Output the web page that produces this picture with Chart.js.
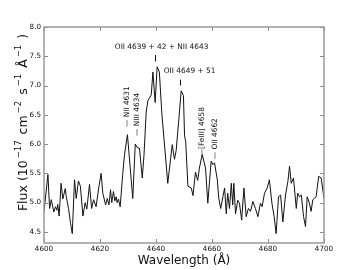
<!DOCTYPE html>
<html>
<head>
<meta charset="utf-8">
<script src="https://cdn.jsdelivr.net/npm/chart.js@4"></script>
<style>
  body { margin: 0; background: #fff; }
</style>
</head>
<body>
<canvas id="espectro" width="360" height="270"></canvas>
<script>
var wavelength = [
  4600.0, 4601.4, 4602.0, 4602.6, 4603.5, 4604.1, 4604.6, 4604.9, 4605.4, 4606.1,
  4606.7, 4607.6, 4607.9, 4608.75, 4609.5, 4610.1, 4610.9, 4611.5, 4612.3, 4613.0,
  4613.9, 4614.7, 4615.3, 4616.25, 4617.0, 4617.7, 4618.6, 4619.6, 4620.4, 4621.0,
  4622.0, 4622.6, 4623.2, 4623.75, 4624.2, 4624.8, 4625.3, 4625.8, 4626.1, 4626.6,
  4627.2, 4628.1, 4628.75, 4629.8, 4631.7, 4632.6, 4633.3, 4634.1, 4635.1, 4635.7,
  4636.5, 4637.1, 4638.3, 4638.9, 4639.7, 4640.4, 4641.2, 4642.1, 4643.2, 4644.2,
  4645.8, 4646.6, 4647.2, 4648.2, 4649.0, 4649.8, 4650.2, 4650.6, 4651.4, 4652.6,
  4653.2, 4654.1, 4654.9, 4655.5, 4656.5, 4657.7, 4658.5, 4659.7, 4660.3, 4660.9,
  4661.9, 4662.4, 4663.1, 4663.9, 4664.5, 4665.1, 4665.6, 4666.25, 4666.9, 4667.4,
  4667.8, 4668.4, 4669.2, 4669.8, 4670.6, 4671.4, 4672.2, 4673.0, 4673.75, 4674.6,
  4675.5, 4676.4, 4677.3, 4677.9, 4678.75, 4679.7, 4680.5, 4681.4, 4682.2, 4682.9,
  4683.75, 4684.5, 4685.3, 4686.25, 4687.1, 4687.7, 4688.3, 4689.1, 4690.1, 4690.6,
  4691.25, 4691.9, 4692.7, 4693.4, 4694.0, 4694.8, 4695.4, 4696.0, 4697.2, 4698.1,
  4699.0, 4700.0
];
var flux = [
  4.84, 5.48, 4.90, 5.05, 4.84, 4.93, 4.87, 4.97, 4.77, 5.33,
  5.06, 5.24, 5.12, 4.90, 4.64, 4.47, 5.39, 5.07, 5.37, 5.28,
  4.77, 5.00, 4.89, 5.31, 4.90, 5.05, 4.93, 5.27, 5.50, 5.16,
  4.96, 5.07, 4.96, 5.22, 5.00, 5.19, 5.03, 5.10, 5.00, 5.06,
  4.93, 5.48, 5.82, 6.16, 5.07, 6.00, 5.94, 5.93, 5.42, 5.80,
  6.55, 6.74, 6.84, 7.23, 6.71, 7.32, 7.23, 6.51, 5.90, 5.33,
  5.99, 5.74, 5.89, 6.45, 6.91, 6.83, 6.14, 6.05, 5.28, 5.25,
  5.12, 5.52, 5.38, 5.59, 5.82, 5.59, 4.99, 5.71, 5.65, 5.68,
  5.39, 5.08, 4.90, 5.10, 5.25, 4.81, 5.16, 4.90, 5.33, 4.96,
  5.33, 4.81, 5.04, 4.99, 4.70, 5.25, 4.76, 4.90, 4.85, 5.02,
  4.90, 4.76, 4.99, 4.93, 5.16, 5.25, 5.39, 4.99, 4.76, 4.47,
  5.10, 5.13, 4.67, 5.13, 5.36, 5.62, 5.33, 5.42, 4.90, 5.16,
  5.10, 5.13, 4.76, 4.59, 5.10, 4.99, 4.85, 5.05, 5.10, 5.45,
  5.42, 5.07
];
var xTicks = [4600, 4620, 4640, 4660, 4680, 4700];
var yTicks = [4.5, 5.0, 5.5, 6.0, 6.5, 7.0, 7.5, 8.0];

// etiquetas de lineas de emision
var lineasHoriz = [
  { texto: 'OII 4639 + 42 + NII 4643', x: 4642.0, y: 7.65, marca: 4639.6, y1: 7.52, y2: 7.41 },
  { texto: 'OII 4649 + 51', x: 4652.0, y: 7.24, marca: 4648.4, y1: 7.10, y2: 7.00 }
];
var lineasVert = [
  { texto: '\u2014 NII 4631', x: 4629.6, y: 6.29 },
  { texto: '\u2014 NIII 4634', x: 4633.3, y: 6.14 },
  { texto: '\u2014[FeIII] 4658', x: 4656.4, y: 5.79 },
  { texto: '\u2014 OII 4662', x: 4661.1, y: 5.74 }
];

var puntos = wavelength.map(function (w, i) { return { x: w, y: flux[i] }; });

var fuente = '"DejaVu Sans", sans-serif';

var marco = {
  id: 'marco',
  afterDraw: function (chart) {
    var ctx = chart.ctx;
    var a = chart.chartArea;
    var sx = chart.scales.x, sy = chart.scales.y;
    ctx.save();
    // ticks hacia adentro
    ctx.strokeStyle = '#888';
    ctx.lineWidth = 1;
    ctx.beginPath();
    xTicks.forEach(function (t) {
      var px = Math.round(sx.getPixelForValue(t)) + 0.5;
      ctx.moveTo(px, a.bottom); ctx.lineTo(px, a.bottom - 4);
      ctx.moveTo(px, a.top); ctx.lineTo(px, a.top + 4);
    });
    yTicks.forEach(function (t) {
      var py = Math.round(sy.getPixelForValue(t)) + 0.5;
      ctx.moveTo(a.left, py); ctx.lineTo(a.left + 4, py);
      ctx.moveTo(a.right, py); ctx.lineTo(a.right - 4, py);
    });
    ctx.stroke();
    ctx.strokeStyle = '#999';
    ctx.lineWidth = 1.5;
    ctx.strokeRect(a.left, a.top, a.right - a.left, a.bottom - a.top);

    // anotaciones
    ctx.fillStyle = '#111';
    ctx.strokeStyle = '#111';
    ctx.lineWidth = 1;
    ctx.font = '7.4px ' + fuente;
    ctx.textAlign = 'center';
    ctx.textBaseline = 'middle';
    lineasHoriz.forEach(function (l) {
      ctx.fillText(l.texto, sx.getPixelForValue(l.x), sy.getPixelForValue(l.y));
      var mx = Math.round(sx.getPixelForValue(l.marca)) + 0.5;
      ctx.beginPath();
      ctx.moveTo(mx, sy.getPixelForValue(l.y1));
      ctx.lineTo(mx, sy.getPixelForValue(l.y2));
      ctx.stroke();
    });
    lineasVert.forEach(function (l) {
      ctx.save();
      ctx.translate(sx.getPixelForValue(l.x), sy.getPixelForValue(l.y));
      ctx.rotate(-Math.PI / 2);
      ctx.textAlign = 'left';
      ctx.fillText(l.texto, 0, 0);
      ctx.restore();
    });

    // titulos de ejes
    ctx.font = '12px ' + fuente;
    ctx.textAlign = 'center';
    ctx.textBaseline = 'alphabetic';
    ctx.fillText('Wavelength (\u00c5)', 184, 264);

    // titulo eje y con superindices
    var partes = [
      ['Flux (10', 0], ['\u221217', 1], [' cm', 0], ['\u22122', 1], [' s', 0],
      ['\u22121', 1], [' \u00c5', 0], ['\u22121', 1], [' )', 0]
    ];
    var fNormal = '12.5px ' + fuente, fSup = '8.5px ' + fuente;
    var total = 0;
    partes.forEach(function (p) {
      ctx.font = p[1] ? fSup : fNormal;
      total += ctx.measureText(p[0]).width + (p[1] ? 3 : 1);
    });
    ctx.save();
    ctx.translate(27, 122);
    ctx.rotate(-Math.PI / 2);
    ctx.textAlign = 'left';
    var cx = -total / 2;
    partes.forEach(function (p) {
      ctx.font = p[1] ? fSup : fNormal;
      ctx.fillText(p[0], cx + (p[1] ? 1 : 0), p[1] ? -6 : 0);
      cx += ctx.measureText(p[0]).width + (p[1] ? 3 : 1);
    });
    ctx.restore();
    ctx.restore();
  }
};

var config = {
  type: 'line',
  data: {
    datasets: [{
      data: puntos,
      borderColor: '#111',
      borderWidth: 1,
      pointRadius: 0,
      tension: 0,
      fill: false
    }]
  },
  options: {
    responsive: false,
    devicePixelRatio: 1,
    animation: false,
    layout: { padding: { top: 27, right: 36, left: 0, bottom: 0 } },
    plugins: { legend: { display: false }, tooltip: { enabled: false } },
    scales: {
      x: {
        type: 'linear',
        min: 4600,
        max: 4700,
        grid: { display: false, drawTicks: false },
        border: { display: false },
        afterBuildTicks: function (s) { s.ticks = xTicks.map(function (v) { return { value: v }; }); },
        afterFit: function (s) { s.height = 27; },
        ticks: {
          color: '#111',
          padding: 2,
          maxRotation: 0,
          font: { family: fuente, size: 7.2 },
          callback: function (v) { return String(v); }
        }
      },
      y: {
        type: 'linear',
        min: 4.31,
        max: 8.0,
        grid: { display: false, drawTicks: false },
        border: { display: false },
        afterBuildTicks: function (s) { s.ticks = yTicks.map(function (v) { return { value: v }; }); },
        afterFit: function (s) { s.width = 44; },
        ticks: {
          color: '#111',
          padding: 3,
          font: { family: fuente, size: 7.2 },
          callback: function (v) { return Number(v).toFixed(1); }
        }
      }
    }
  },
  plugins: [marco]
};

if (!!document.getElementById("espectro").getContext("2d")) {
  var chart = new Chart(document.getElementById("espectro").getContext("2d"), config);
}
</script>
</body>
</html>
